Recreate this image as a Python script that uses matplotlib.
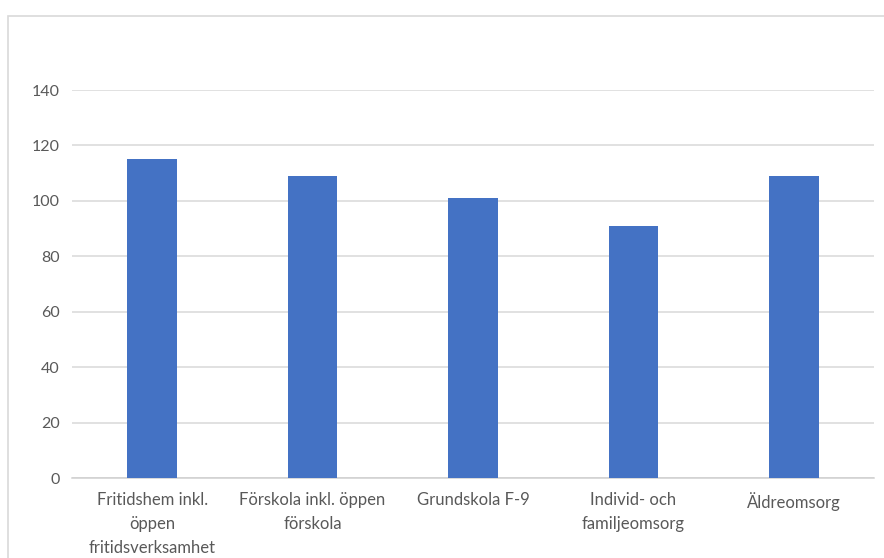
import matplotlib.pyplot as plt
from matplotlib.patches import Rectangle

# Data
categories = [
    "Fritidshem inkl.\nöppen\nfritidsverksamhet",
    "Förskola inkl. öppen\nförskola",
    "Grundskola F-9",
    "Individ- och\nfamiljeomsorg",
    "Äldreomsorg",
]
values = [115, 109, 101, 91, 109]
yticks = [0, 20, 40, 60, 80, 100, 120, 140]

W, H = 884, 558
fig = plt.figure(figsize=(W / 100, H / 100), dpi=100)
plt.rcParams["font.family"] = ["Lato", "DejaVu Sans"]

# chart frame (Excel-style border, runs off the right and bottom edge)
fig.patches.append(
    Rectangle((8 / W, -0.05), 1.0, 1 - 16 / H + 0.05, transform=fig.transFigure,
              fill=False, edgecolor="#d9d9d9", linewidth=1.2)
)

ax = fig.add_axes([72 / W, 1 - 478 / H, (874 - 72) / W, (478 - 90) / H])
x = range(len(categories))
ax.bar(x, values, width=0.31, color="#4472c4", zorder=3)

ax.set_xlim(-0.5, len(categories) - 0.5)
ax.set_ylim(0, 140)
ax.set_yticks(yticks)
ax.set_xticks(list(x))
ax.set_xticklabels(categories, fontsize=12, color="#595959", linespacing=1.62, va="top")
ax.tick_params(axis="y", labelsize=11.5, labelcolor="#595959", length=0, pad=9)
ax.tick_params(axis="x", length=0, pad=10)

ax.grid(axis="y", color="#d9d9d9", linewidth=1.1, zorder=0)
for side in ["top", "right", "left"]:
    ax.spines[side].set_visible(False)
ax.spines["bottom"].set_color("#d0d0d0")
ax.spines["bottom"].set_linewidth(1.1)

fig.savefig("out.png", dpi=100)
